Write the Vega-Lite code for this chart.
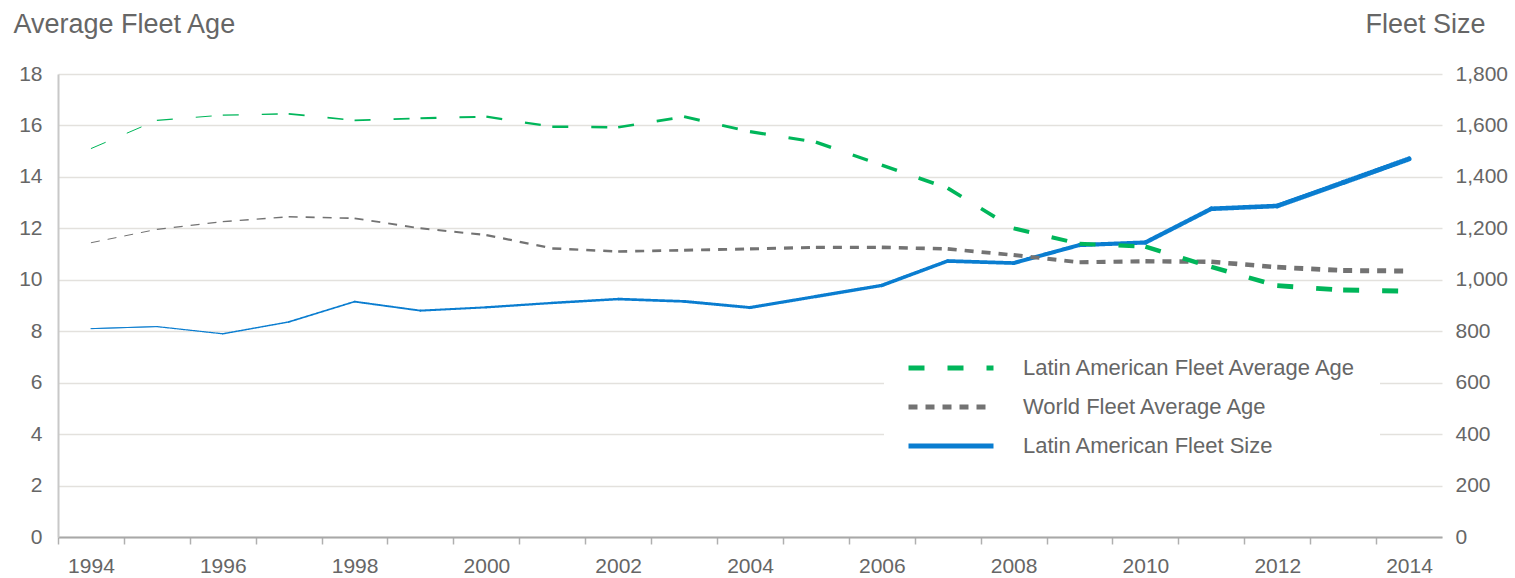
{
  "$schema": "https://vega.github.io/schema/vega-lite/v6.json",
  "width": 1384,
  "height": 463,
  "autosize": {"type": "none"},
  "padding": {"left": 58, "top": 74, "right": 73, "bottom": 41},
  "background": "white",
  "config": {"view": {"stroke": null}, "font": "Liberation Sans"},
  "data": {
    "values": [
      {"series": "Latin American Fleet Size", "year": 1994, "value": 810},
      {"series": "Latin American Fleet Size", "year": 1995, "value": 818},
      {"series": "Latin American Fleet Size", "year": 1996, "value": 790},
      {"series": "Latin American Fleet Size", "year": 1997, "value": 836},
      {"series": "Latin American Fleet Size", "year": 1998, "value": 915},
      {"series": "Latin American Fleet Size", "year": 1999, "value": 880},
      {"series": "Latin American Fleet Size", "year": 2000, "value": 893},
      {"series": "Latin American Fleet Size", "year": 2001, "value": 910},
      {"series": "Latin American Fleet Size", "year": 2002, "value": 925},
      {"series": "Latin American Fleet Size", "year": 2003, "value": 916},
      {"series": "Latin American Fleet Size", "year": 2004, "value": 892},
      {"series": "Latin American Fleet Size", "year": 2005, "value": 935},
      {"series": "Latin American Fleet Size", "year": 2006, "value": 978},
      {"series": "Latin American Fleet Size", "year": 2007, "value": 1073},
      {"series": "Latin American Fleet Size", "year": 2008, "value": 1065},
      {"series": "Latin American Fleet Size", "year": 2009, "value": 1135},
      {"series": "Latin American Fleet Size", "year": 2010, "value": 1145},
      {"series": "Latin American Fleet Size", "year": 2011, "value": 1276},
      {"series": "Latin American Fleet Size", "year": 2012, "value": 1287},
      {"series": "Latin American Fleet Size", "year": 2013, "value": 1378},
      {"series": "Latin American Fleet Size", "year": 2014, "value": 1470},
      {"series": "World Fleet Average Age", "year": 1994, "value": 11.44},
      {"series": "World Fleet Average Age", "year": 1995, "value": 11.96},
      {"series": "World Fleet Average Age", "year": 1996, "value": 12.26},
      {"series": "World Fleet Average Age", "year": 1997, "value": 12.45},
      {"series": "World Fleet Average Age", "year": 1998, "value": 12.39},
      {"series": "World Fleet Average Age", "year": 1999, "value": 12.0},
      {"series": "World Fleet Average Age", "year": 2000, "value": 11.74},
      {"series": "World Fleet Average Age", "year": 2001, "value": 11.22},
      {"series": "World Fleet Average Age", "year": 2002, "value": 11.1},
      {"series": "World Fleet Average Age", "year": 2003, "value": 11.15},
      {"series": "World Fleet Average Age", "year": 2004, "value": 11.2},
      {"series": "World Fleet Average Age", "year": 2005, "value": 11.26},
      {"series": "World Fleet Average Age", "year": 2006, "value": 11.26},
      {"series": "World Fleet Average Age", "year": 2007, "value": 11.2},
      {"series": "World Fleet Average Age", "year": 2008, "value": 10.96},
      {"series": "World Fleet Average Age", "year": 2009, "value": 10.68},
      {"series": "World Fleet Average Age", "year": 2010, "value": 10.72},
      {"series": "World Fleet Average Age", "year": 2011, "value": 10.7},
      {"series": "World Fleet Average Age", "year": 2012, "value": 10.49},
      {"series": "World Fleet Average Age", "year": 2013, "value": 10.36},
      {"series": "World Fleet Average Age", "year": 2014, "value": 10.34},
      {"series": "Latin American Fleet Average Age", "year": 1994, "value": 15.1},
      {"series": "Latin American Fleet Average Age", "year": 1995, "value": 16.2},
      {"series": "Latin American Fleet Average Age", "year": 1996, "value": 16.4},
      {"series": "Latin American Fleet Average Age", "year": 1997, "value": 16.45},
      {"series": "Latin American Fleet Average Age", "year": 1998, "value": 16.2},
      {"series": "Latin American Fleet Average Age", "year": 1999, "value": 16.28},
      {"series": "Latin American Fleet Average Age", "year": 2000, "value": 16.34},
      {"series": "Latin American Fleet Average Age", "year": 2001, "value": 15.95},
      {"series": "Latin American Fleet Average Age", "year": 2002, "value": 15.93},
      {"series": "Latin American Fleet Average Age", "year": 2003, "value": 16.34},
      {"series": "Latin American Fleet Average Age", "year": 2004, "value": 15.76},
      {"series": "Latin American Fleet Average Age", "year": 2005, "value": 15.35},
      {"series": "Latin American Fleet Average Age", "year": 2006, "value": 14.46},
      {"series": "Latin American Fleet Average Age", "year": 2007, "value": 13.56},
      {"series": "Latin American Fleet Average Age", "year": 2008, "value": 12.0},
      {"series": "Latin American Fleet Average Age", "year": 2009, "value": 11.4},
      {"series": "Latin American Fleet Average Age", "year": 2010, "value": 11.29},
      {"series": "Latin American Fleet Average Age", "year": 2011, "value": 10.5},
      {"series": "Latin American Fleet Average Age", "year": 2012, "value": 9.77},
      {"series": "Latin American Fleet Average Age", "year": 2013, "value": 9.6},
      {"series": "Latin American Fleet Average Age", "year": 2014, "value": 9.56}
    ]
  },
  "transform": [
    {
      "window": [
        {"op": "lead", "field": "year", "as": "year2"},
        {"op": "lead", "field": "value", "as": "value2"}
      ],
      "groupby": ["series"],
      "sort": [{"field": "year", "order": "ascending"}]
    },
    {"filter": "datum.year2 != null"}
  ],
  "encoding": {
    "x": {
      "field": "year",
      "type": "quantitative",
      "scale": {"domain": [1993.5, 2014.5], "nice": false, "zero": false},
      "axis": {
        "title": null,
        "values": [1994, 1995, 1996, 1997, 1998, 1999, 2000, 2001, 2002, 2003, 2004, 2005, 2006, 2007, 2008, 2009, 2010, 2011, 2012, 2013, 2014],
        "labelExpr": "datum.value % 2 == 0 ? '' + datum.value : ''",
        "tickOffset": -33,
        "labelOffset": 33,
        "labelOverlap": false,
        "labelFlush": false,
        "grid": false,
        "domainColor": "#a8a8a8",
        "domainWidth": 2,
        "tickColor": "#b0b0b0",
        "tickWidth": 1.5,
        "tickSize": 7,
        "labelFontSize": 21,
        "labelColor": "#666666",
        "labelPadding": 11
      }
    },
    "x2": {"field": "year2"},
    "size": {
      "field": "year",
      "type": "quantitative",
      "scale": {"domain": [1994, 2013], "range": [1, 5]},
      "legend": null
    },
    "color": {
      "field": "series",
      "type": "nominal",
      "scale": {
        "domain": ["Latin American Fleet Average Age", "World Fleet Average Age", "Latin American Fleet Size"],
        "range": ["#00b65a", "#737373", "#0a7dd0"]
      },
      "legend": {
        "title": null,
        "orient": "none",
        "legendX": 826,
        "legendY": 262,
        "direction": "vertical",
        "symbolType": "stroke",
        "symbolSize": 7225,
        "symbolStrokeWidth": 5,
        "clipHeight": 20,
        "rowPadding": 17,
        "labelOffset": 27,
        "labelFontSize": 22,
        "labelColor": "#666666",
        "labelLimit": 600,
        "fillColor": "white",
        "padding": 22
      }
    },
    "strokeDash": {
      "field": "series",
      "type": "nominal",
      "scale": {
        "domain": ["Latin American Fleet Average Age", "World Fleet Average Age", "Latin American Fleet Size"],
        "range": [[16, 23], [9, 8], [1, 0]]
      },
      "legend": {
        "title": null,
        "orient": "none",
        "legendX": 826,
        "legendY": 262,
        "direction": "vertical",
        "symbolType": "stroke",
        "symbolSize": 7225,
        "symbolStrokeWidth": 5,
        "clipHeight": 20,
        "rowPadding": 17,
        "labelOffset": 27,
        "labelFontSize": 22,
        "labelColor": "#666666",
        "labelLimit": 600,
        "fillColor": "white",
        "padding": 22
      }
    }
  },
  "layer": [
    {
      "transform": [{"filter": "datum.series === 'Latin American Fleet Size'"}],
      "mark": {"type": "rule", "strokeCap": "round"},
      "encoding": {
        "y": {
          "field": "value",
          "type": "quantitative",
          "scale": {"domain": [0, 1800], "nice": false},
          "axis": {
            "orient": "right",
            "title": "Fleet Size",
            "titleAngle": 0,
            "titleX": 43,
            "titleY": -42,
            "titleAlign": "right",
            "titleBaseline": "alphabetic",
            "titleFontSize": 27,
            "titleFontWeight": "normal",
            "titleColor": "#666666",
            "values": [0, 200, 400, 600, 800, 1000, 1200, 1400, 1600, 1800],
            "format": ",d",
            "grid": false,
            "ticks": false,
            "domain": false,
            "labelFontSize": 21,
            "labelColor": "#666666",
            "labelPadding": 13
          }
        },
        "y2": {"field": "value2"}
      }
    },
    {
      "encoding": {
        "y": {
          "field": "value",
          "type": "quantitative",
          "scale": {"domain": [0, 18], "nice": false},
          "axis": {
            "title": "Average Fleet Age",
            "titleAngle": 0,
            "titleX": -45,
            "titleY": -42,
            "titleAlign": "left",
            "titleBaseline": "alphabetic",
            "titleFontSize": 27,
            "titleFontWeight": "normal",
            "titleColor": "#666666",
            "values": [0, 2, 4, 6, 8, 10, 12, 14, 16, 18],
            "grid": true,
            "gridColor": "#e3e1dd",
            "gridWidth": 1.5,
            "ticks": false,
            "domain": true,
            "domainColor": "#c8c8c8",
            "domainWidth": 2,
            "labelFontSize": 21,
            "labelColor": "#666666",
            "labelPadding": 16
          }
        },
        "y2": {"field": "value2"}
      },
      "layer": [
        {
          "transform": [{"filter": "datum.series === 'World Fleet Average Age'"}],
          "mark": {"type": "rule", "strokeCap": "butt"},
          "encoding": {}
        },
        {
          "transform": [{"filter": "datum.series === 'Latin American Fleet Average Age'"}],
          "mark": {"type": "rule", "strokeCap": "butt"},
          "encoding": {}
        }
      ]
    }
  ],
  "resolve": {"scale": {"y": "independent"}}
}
